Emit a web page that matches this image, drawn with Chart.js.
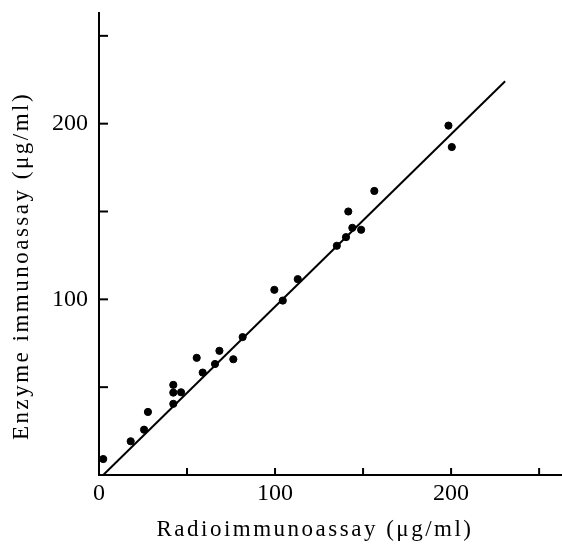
<!DOCTYPE html>
<html>
<head>
<meta charset="utf-8">
<script src="https://cdn.jsdelivr.net/npm/chart.js@4.4.1/dist/chart.umd.min.js"></script>
<style>
  html, body { margin: 0; padding: 0; background: #fff; }
  #wrap { width: 562px; height: 547px; }
</style>
</head>
<body>
<div id="wrap"><canvas id="chart" width="562" height="547"></canvas></div>
<script>
// =========================
// Data
// =========================
const riaValues = [2.4, 18.0, 25.6, 27.8, 42.2, 42.2, 46.6, 42.2, 55.5, 58.9, 65.9, 68.4, 76.3, 81.6,
  99.6, 104.4, 112.9, 135.1, 140.3, 143.9, 148.9, 141.6, 156.4, 198.5, 200.4];
const eiaValues = [9.1, 19.2, 25.8, 35.9, 51.3, 46.9, 47.1, 40.5, 66.7, 58.3, 63.2, 70.7, 65.9, 78.5,
  105.4, 99.3, 111.5, 130.5, 135.4, 140.7, 139.6, 150.0, 161.7, 198.9, 186.7];
const fitX = [2.4, 230.7];
const fitY = [0, 224.1];
const labeledTicksX = [0, 100, 200];
const labeledTicksY = [100, 200];
const axisMax = 263;
const xTitle = "Radioimmunoassay (\u03bcg/ml)";
const yTitle = "Enzyme immunoassay (\u03bcg/ml)";

const points = riaValues.map((x, i) => ({ x: x, y: eiaValues[i] }));
const fitLine = fitX.map((x, i) => ({ x: x, y: fitY[i] }));

const SERIF = "'Liberation Serif', 'DejaVu Serif', serif";

// =========================
// inward tick marks + axis titles
// =========================
const axisExtras = {
  id: "axisExtras",
  afterDatasetsDraw(chart) {
    const ctx = chart.ctx;
    const xs = chart.scales.x, ys = chart.scales.y;
    ctx.save();
    ctx.strokeStyle = "#000";
    ctx.lineWidth = 2;
    xs.ticks.forEach((t) => {
      if (t.value === 0) return;
      const px = xs.getPixelForValue(t.value);
      ctx.beginPath();
      ctx.moveTo(px, ys.bottom);
      ctx.lineTo(px, ys.bottom - 7);
      ctx.stroke();
    });
    ys.ticks.forEach((t) => {
      if (t.value === 0) return;
      const py = ys.getPixelForValue(t.value);
      ctx.beginPath();
      ctx.moveTo(xs.left, py);
      ctx.lineTo(xs.left + 9, py);
      ctx.stroke();
    });

    ctx.fillStyle = "#000";
    ctx.font = "23px " + SERIF;
    ctx.letterSpacing = "2.5px";
    ctx.textAlign = "center";
    ctx.textBaseline = "alphabetic";
    ctx.fillText(xTitle, 315, 536);

    ctx.translate(28, 266);
    ctx.rotate(-Math.PI / 2);
    ctx.fillText(yTitle, 0, 0);
    ctx.restore();
  },
};

new Chart(document.getElementById("chart").getContext("2d"), {
  type: "scatter",
  data: {
    datasets: [
      {
        data: points,
        backgroundColor: "#000",
        borderColor: "#000",
        pointRadius: 3.6,
        pointHoverRadius: 3.6,
      },
      {
        type: "line",
        data: fitLine,
        borderColor: "#000",
        borderWidth: 2,
        pointRadius: 0,
        fill: false,
      },
    ],
  },
  options: {
    responsive: false,
    animation: false,
    events: [],
    layout: { autoPadding: false, padding: { top: 13, right: 0, left: 0, bottom: 0 } },
    plugins: { legend: { display: false }, tooltip: { enabled: false } },
    scales: {
      x: {
        type: "linear",
        min: 0,
        max: axisMax,
        afterFit: (s) => { s.height = 72; s.paddingRight = 0; s.paddingLeft = 0; },
        grid: { display: false, drawTicks: false },
        border: { display: true, color: "#000", width: 2 },
        ticks: {
          stepSize: 50,
          includeBounds: false,
          maxRotation: 0,
          autoSkip: false,
          padding: 4,
          color: "#000",
          font: { family: SERIF, size: 24 },
          callback: (v) => (labeledTicksX.includes(v) ? String(v) : ""),
        },
      },
      y: {
        type: "linear",
        min: 0,
        max: axisMax,
        afterFit: (s) => { s.width = 99; s.paddingTop = 0; s.paddingBottom = 0; },
        grid: { display: false, drawTicks: false },
        border: { display: true, color: "#000", width: 2 },
        ticks: {
          stepSize: 50,
          includeBounds: false,
          autoSkip: false,
          padding: 11,
          color: "#000",
          font: { family: SERIF, size: 24 },
          callback: (v) => (labeledTicksY.includes(v) ? String(v) : ""),
        },
      },
    },
  },
  plugins: [axisExtras],
});
</script>
</body>
</html>
